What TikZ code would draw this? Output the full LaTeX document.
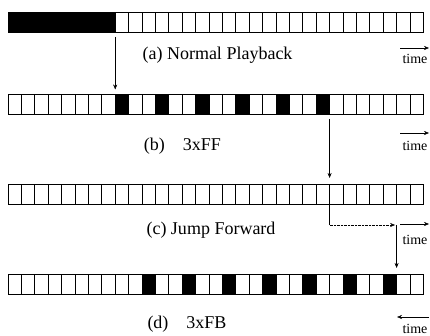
\documentclass[tikz,border=0pt]{standalone}
\usepackage{fontspec}
\setmainfont{Liberation Serif}
\usetikzlibrary{arrows.meta}

\begin{document}
\begin{tikzpicture}[x=1pt, y=-1pt,
    frame/.style={draw=black, line width=0.8pt},
    shown/.style={frame, fill=black},
    jump/.style={thin, black, -{Stealth[length=5pt,width=4pt]}},
    caption/.style={anchor=base, inner sep=0pt, font=\fontsize{18}{18}\selectfont},
    timelabel/.style={anchor=base, inner sep=0pt, font=\fontsize{14}{14}\selectfont}]
    \useasboundingbox (0,0) rectangle (430,336);

    % four rows of 31 frames
    \foreach \y in {12.5,94.5,184,274}
        \foreach \i in {0,...,30}
            \draw [frame] ({8+13.4*\i},\y) rectangle ++(13.4,20);

    \foreach \i in {0,...,7}                     % (a) frames played so far
        \draw [shown] ({8+13.4*\i},12.5) rectangle ++(13.4,20);
    \foreach \i in {8,11,...,23}                 % (b) every third frame
        \draw [shown] ({8+13.4*\i},94.5) rectangle ++(13.4,20);
    \foreach \i in {10,13,...,28}                % (d) every third frame, backwards
        \draw [shown] ({8+13.4*\i},274) rectangle ++(13.4,20);

    \coordinate (a8) at ({8+13.4*8},32.5);
    \coordinate (b8) at ({8+13.4*8},94.5);
    \coordinate (b24) at ({8+13.4*24},114.5);
    \coordinate (c24) at ({8+13.4*24},184);
    \coordinate (c24low) at ({8+13.4*24},204.5);
    \coordinate (bend) at ({8+13.4*24},225);
    \coordinate (land) at ({8+13.4*29},225);
    \coordinate (d29) at ({8+13.4*29},274);

    \draw [jump, shorten <=4.5pt, shorten >=5pt] (a8) -- (b8);   % start of 3xFF
    \draw [jump, shorten <=4.5pt, shorten >=6pt] (b24) -- (c24); % end of 3xFF
    \draw [thin] (c24low) -- (bend);                              % jump
    \draw [jump, densely dotted, shorten >=1.5pt] (bend) -- (land);
    \draw [jump, shorten >=6pt] (land) -- (d29);                  % start of 3xFB

    \node [caption] (capa) at (217.5,60) {(a) Normal Playback};
    \node [caption] (capb) at (182.5,151) {(b)\quad 3xFF};
    \node [caption] (capc) at (211,235) {(c) Jump Forward};
    \node [caption] (capd) at (187,328) {(d)\quad 3xFB};

    % time direction for each row
    \node [timelabel] (timea) at (415,64) {time};
    \node [timelabel] (timeb) at (415,151) {time};
    \node [timelabel] (timec) at (415,244) {time};
    \node [timelabel] (timed) at (415,333) {time};
    \coordinate (ta0) at (400,48);  \coordinate (ta1) at (429,48);
    \coordinate (tb0) at (400,133); \coordinate (tb1) at (429,133);
    \coordinate (tc0) at (400,224); \coordinate (tc1) at (429,224);
    \coordinate (td0) at (429,317); \coordinate (td1) at (397,317);
    \draw [jump] (ta0) -- (ta1);
    \draw [jump] (tb0) -- (tb1);
    \draw [jump] (tc0) -- (tc1);
    \draw [jump] (td0) -- (td1);
\end{tikzpicture}
\end{document}
